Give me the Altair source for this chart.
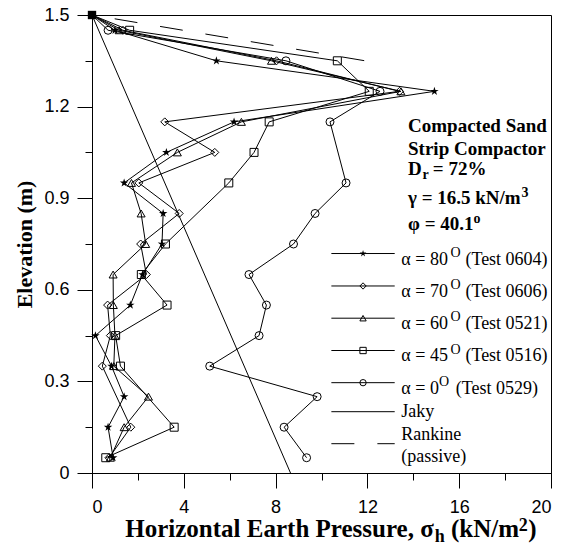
import altair as alt
import pandas as pd

# ---------------- data ----------------
elev_80 = [1.5, 1.45, 1.35, 1.25, 1.15, 1.05, 0.95, 0.85, 0.75, 0.65, 0.55, 0.45, 0.35, 0.25, 0.15, 0.05]
p_80 = [0, 1.00, 5.42, 14.92, 6.19, 3.24, 1.40, 3.10, 3.05, 2.20, 1.67, 0.15, 0.85, 1.40, 0.70, 0.92]

elev_70 = [1.5, 1.45, 1.35, 1.25, 1.15, 1.05, 0.95, 0.85, 0.75, 0.65, 0.55, 0.45, 0.35, 0.15, 0.05]
p_70 = [0, 1.35, 8.04, 13.40, 3.17, 5.35, 2.04, 3.80, 2.12, 2.37, 0.68, 0.80, 0.45, 1.69, 0.74]

elev_60 = [1.5, 1.45, 1.35, 1.25, 1.15, 1.05, 0.95, 0.85, 0.75, 0.65, 0.55, 0.45, 0.35, 0.25, 0.15, 0.05]
p_60 = [0, 1.18, 7.82, 13.46, 6.51, 3.72, 1.72, 2.14, 2.34, 0.92, 0.93, 1.00, 0.95, 2.46, 1.40, 0.80]

elev_45 = [1.5, 1.45, 1.35, 1.25, 1.15, 1.05, 0.95, 0.75, 0.65, 0.55, 0.45, 0.35, 0.15, 0.05]
p_45 = [0, 1.64, 10.69, 12.08, 7.72, 7.06, 5.96, 3.20, 2.15, 3.27, 1.03, 1.24, 3.58, 0.60]

elev_0 = [1.5, 1.45, 1.35, 1.25, 1.15, 0.95, 0.85, 0.75, 0.65, 0.55, 0.45, 0.35, 0.25, 0.15, 0.05]
p_0 = [0, 0.70, 8.45, 12.55, 10.37, 11.07, 9.72, 8.78, 6.84, 7.60, 7.28, 5.13, 9.81, 8.37, 9.35]

jaky_p = [0, 8.65]
jaky_elev = [1.5, 0]
rankine_p = [0, 11.9]
rankine_elev = [1.5, 1.35]

surface_p = [0]
surface_elev = [1.5]

series_names = ["80", "70", "60", "45", "0"]
legend_main = ["α = 80", "α = 70", "α = 60", "α = 45", "α = 0"]
legend_tests = ["(Test 0604)", "(Test 0606)", "(Test 0521)", "(Test 0516)", "(Test 0529)"]

x_major = [0, 4, 8, 12, 16, 20]
x_minor = [2, 6, 10, 14, 18]
y_major = [0, 0.3, 0.6, 0.9, 1.2, 1.5]
y_minor = [0.15, 0.45, 0.75, 1.05, 1.35]

# ---------------- build tables ----------------
STAR = ("M0,-1L0.2234,-0.3074L0.9511,-0.309L0.3614,0.1174L0.5878,0.809L0,0.38"
        "L-0.5878,0.809L-0.3614,0.1174L-0.9511,-0.309L-0.2234,-0.3074Z")
shape_range = [STAR, "diamond", "triangle-up", "square", "circle"]

rows = []
for name, el, pr in zip(series_names, [elev_80, elev_70, elev_60, elev_45, elev_0],
                        [p_80, p_70, p_60, p_45, p_0]):
    for i, (e, p) in enumerate(zip(el, pr)):
        rows.append({"series": name, "idx": i, "elev": e, "p": p})
df = pd.DataFrame(rows)

xs = alt.Scale(domain=[0, 20], nice=False, zero=False)
ys = alt.Scale(domain=[0, 1.5], nice=False, zero=False)
SERIF = "Liberation Serif"
SANS = "Liberation Sans"


def X(field="p"):
    return alt.X(f"{field}:Q", scale=xs, axis=None)


def Y(field="elev"):
    return alt.Y(f"{field}:Q", scale=ys, axis=None)


lines = alt.Chart(df).mark_line(color="black", strokeWidth=1).encode(
    x=X(), y=Y(), detail="series:N", order="idx:Q")

pts_open = alt.Chart(df[(df.series != "80") & (df.idx > 0)]).mark_point(
    filled=False, color="black", strokeWidth=1, size=64, opacity=1).encode(
    x=X(), y=Y(),
    shape=alt.Shape("series:N", scale=alt.Scale(domain=series_names[1:], range=shape_range[1:]), legend=None))

pts_star = alt.Chart(df[(df.series == "80") & (df.idx > 0)]).mark_point(
    filled=True, color="black", size=80, shape=STAR, opacity=1).encode(x=X(), y=Y())

surface = alt.Chart(pd.DataFrame({"p": surface_p, "elev": surface_elev})).mark_point(
    filled=True, color="black", size=70, shape="square", opacity=1).encode(x=X(), y=Y())

jaky = alt.Chart(pd.DataFrame({"p": jaky_p, "elev": jaky_elev})).mark_line(
    color="black", strokeWidth=1).encode(x=X(), y=Y())

rankine = alt.Chart(pd.DataFrame({"p": rankine_p, "elev": rankine_elev})).mark_line(
    color="black", strokeWidth=1, strokeDash=[23, 23], strokeDashOffset=23).encode(x=X(), y=Y())

# ---------------- axes (major + minor ticks) ----------------
dummy = pd.DataFrame({"p": [0], "elev": [0]})
ax_common = dict(domainColor="black", tickColor="black", labelColor="black", grid=False,
                 labelFont=SANS, labelFontSize=18, domainWidth=1, tickWidth=1)
axis_major = alt.Chart(dummy).mark_point(opacity=0).encode(
    x=alt.X("p:Q", scale=xs, axis=alt.Axis(values=x_major, format="d", tickSize=15, labelPadding=10,
                                           title=None, orient="bottom", **ax_common)),
    y=alt.Y("elev:Q", scale=ys, axis=alt.Axis(values=y_major, format=".1~f", tickSize=15, labelPadding=8,
                                              title="Elevation (m)", titleFont=SERIF, titleFontSize=22,
                                              titleFontWeight="bold", titleColor="black",
                                              titleX=-68, titleY=229, titleAngle=270,
                                              titleAlign="center", titleBaseline="middle",
                                              orient="left", **ax_common)))
axis_minor = alt.Chart(dummy).mark_point(opacity=0).encode(
    x=alt.X("p:Q", scale=xs, axis=alt.Axis(values=x_minor, tickSize=7, labels=False, title=None,
                                           orient="bottom", **ax_common)),
    y=alt.Y("elev:Q", scale=ys, axis=alt.Axis(values=y_minor, tickSize=7, labels=False, title=None,
                                              orient="left", **ax_common)))

# ---------------- legend (drawn in data units) ----------------
row_elev = [0.7188, 0.6125, 0.5070, 0.4012, 0.2958]
leg = pd.DataFrame({"series": series_names, "ly": row_elev,
                    "ty": [r - 0.036 for r in row_elev],
                    "sy": [r - 0.010 for r in row_elev],
                    "main": legend_main, "rest": legend_tests,
                    "sx": [15.62, 15.62, 15.62, 15.62, 15.12],
                    "rx": [16.27, 16.27, 16.27, 16.27, 15.85],
                    "x1": [10.43] * 5, "x2": [13.19] * 5, "mx": [11.81] * 5, "tx": [13.48] * 5,
                    "sup": ["O"] * 5})

leg_lines = alt.Chart(leg).mark_rule(color="black", strokeWidth=1).encode(
    x=X("x1"), x2="x2:Q", y=Y("ly"))
leg_open = alt.Chart(leg[leg.series != "80"]).mark_point(
    filled=False, color="black", strokeWidth=1, size=40, opacity=1).encode(
    x=X("mx"), y=Y("ly"),
    shape=alt.Shape("series:N", scale=alt.Scale(domain=series_names[1:], range=shape_range[1:]), legend=None))
leg_star = alt.Chart(leg[leg.series == "80"]).mark_point(
    filled=True, color="black", size=50, shape=STAR, opacity=1).encode(x=X("mx"), y=Y("ly"))
leg_main = alt.Chart(leg).mark_text(align="left", baseline="alphabetic", font=SERIF, fontSize=18,
                                    color="black").encode(x=X("tx"), y=Y("ty"), text="main:N")
leg_sup = alt.Chart(leg).mark_text(align="left", baseline="alphabetic", font=SERIF, fontSize=14,
                                   color="black").encode(x=X("sx"), y=Y("sy"), text="sup:N")
leg_rest = alt.Chart(leg).mark_text(align="left", baseline="alphabetic", font=SERIF, fontSize=18,
                                    color="black").encode(x=X("rx"), y=Y("ty"), text="rest:N")

leg2 = pd.DataFrame({"x1": [10.43, 10.43], "x2": [13.19, 13.19], "ly": [0.2008, 0.0960]})
leg_jaky = alt.Chart(leg2.iloc[[0]]).mark_rule(color="black", strokeWidth=1).encode(
    x=X("x1"), x2="x2:Q", y=Y("ly"))
leg_rank = alt.Chart(leg2.iloc[[1]]).mark_rule(color="black", strokeWidth=1, strokeDash=[23, 23]).encode(
    x=X("x1"), x2="x2:Q", y=Y("ly"))
leg_txt2 = alt.Chart(pd.DataFrame({"t": ["Jaky", "Rankine", "(passive)"], "x": [13.48] * 3,
                                   "y": [0.1834, 0.1065, 0.0370]})).mark_text(
    align="left", baseline="alphabetic", font=SERIF, fontSize=18, color="black").encode(
    x=X("x"), y=Y("y"), text="t:N")

# ---------------- annotation block ----------------
ann_main = pd.DataFrame({"t": ["Compacted Sand", "Strip Compactor", "D", "= 72%", "γ = 16.5 kN/m", "φ = 40.1"],
                         "x": [13.77, 13.77, 13.77, 14.85, 13.77, 13.77],
                         "y": [1.1156, 1.0426, 0.977, 0.977, 0.8811, 0.797]})
ann_small = pd.DataFrame({"t": ["r", "3", "o"], "x": [14.40, 18.72, 16.62], "y": [0.962, 0.904, 0.82]})
ann1 = alt.Chart(ann_main).mark_text(align="left", baseline="alphabetic", font=SERIF, fontSize=19,
                                     fontWeight="bold", color="black").encode(x=X("x"), y=Y("y"), text="t:N")
ann2 = alt.Chart(ann_small).mark_text(align="left", baseline="alphabetic", font=SERIF, fontSize=14,
                                      fontWeight="bold", color="black").encode(x=X("x"), y=Y("y"), text="t:N")

# ---------------- x-axis title (with sub/superscripts) ----------------
xt_big = pd.DataFrame({"t": ["Horizontal Earth Pressure, σ", "(kN/m", ")"],
                       "x": [1.45, 15.64, 19.01], "y": [-0.2103, -0.2103, -0.2103]})
xt_small = pd.DataFrame({"t": ["h", "2"], "x": [14.94, 18.60], "y": [-0.227, -0.190]})
xt1 = alt.Chart(xt_big).mark_text(align="left", baseline="alphabetic", font=SERIF, fontSize=25,
                                  fontWeight="bold", color="black").encode(x=X("x"), y=Y("y"), text="t:N")
xt2 = alt.Chart(xt_small).mark_text(align="left", baseline="alphabetic", font=SERIF, fontSize=18,
                                    fontWeight="bold", color="black").encode(x=X("x"), y=Y("y"), text="t:N")

chart = alt.layer(
    axis_major, axis_minor, jaky, rankine, lines, pts_open, pts_star, surface,
    leg_lines, leg_open, leg_star, leg_main, leg_sup, leg_rest, leg_jaky, leg_rank, leg_txt2,
    ann1, ann2, xt1, xt2
).resolve_axis(x="independent", y="independent").properties(
    width=459, height=458,
    autosize=alt.AutoSizeParams(type="none"),
    padding={"left": 92, "top": 15, "right": 22, "bottom": 75},
    background="white",
).configure_view(stroke="black", strokeWidth=1)

chart.save("out.html", embed_options={"renderer": "svg", "actions": False})
